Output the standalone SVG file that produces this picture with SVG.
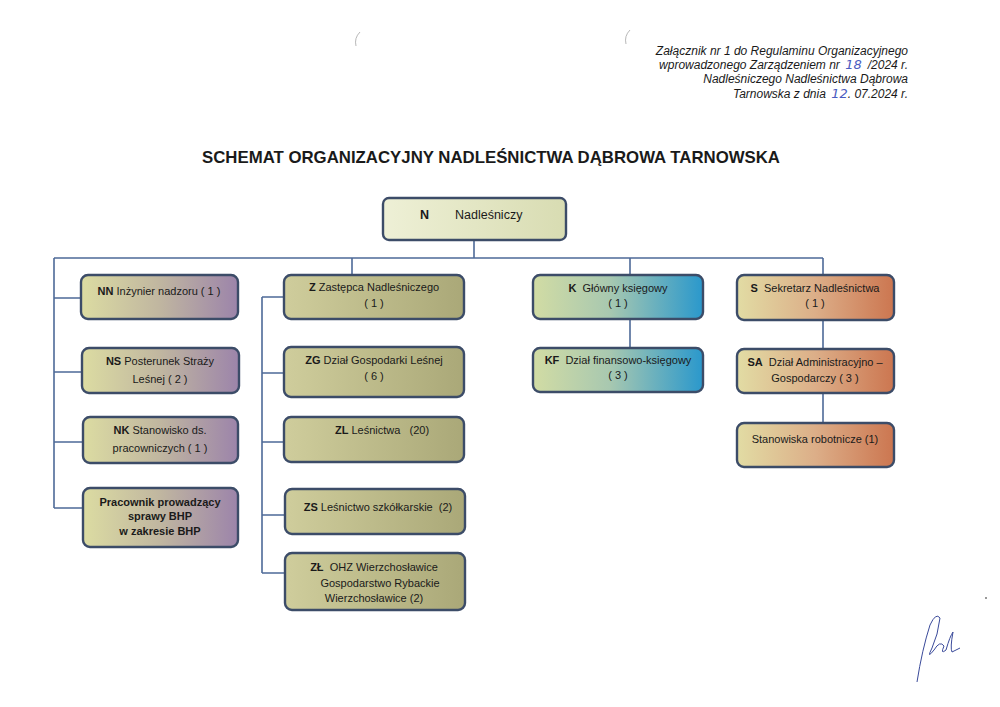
<svg xmlns="http://www.w3.org/2000/svg" width="1000" height="707" viewBox="0 0 1000 707">
<style>
text{font-family:"Liberation Sans",Arial,sans-serif;fill:#1a1a1a}
.hdr{font-size:12px;font-style:italic;text-anchor:end}
.hand{font-family:"DejaVu Sans",sans-serif;font-style:italic;fill:#4a5cc0;font-size:13px}
.t{font-size:11px;text-anchor:middle}
.b{font-weight:bold}
.box{stroke:#3c4c68;stroke-width:2.4}
.con{stroke:#4e6a98;stroke-width:1.6;fill:none}
</style>
<defs>
<linearGradient id="gN" x1="0" y1="0" x2="1" y2="0"><stop offset="0" stop-color="#eef0d6"/><stop offset="1" stop-color="#d8dcb2"/></linearGradient>
<linearGradient id="gL" x1="0" y1="0" x2="1" y2="0"><stop offset="0" stop-color="#dcdca2"/><stop offset="0.5" stop-color="#c0b6a0"/><stop offset="1" stop-color="#9c84aa"/></linearGradient>
<linearGradient id="gZ" x1="0" y1="0" x2="1" y2="0"><stop offset="0" stop-color="#cfcd9c"/><stop offset="1" stop-color="#aaa878"/></linearGradient>
<linearGradient id="gK" x1="0" y1="0" x2="1" y2="0"><stop offset="0" stop-color="#d2dca4"/><stop offset="0.45" stop-color="#a8c8b0"/><stop offset="1" stop-color="#2a98cc"/></linearGradient>
<linearGradient id="gS" x1="0" y1="0" x2="1" y2="0"><stop offset="0" stop-color="#e2dca4"/><stop offset="0.5" stop-color="#dcae88"/><stop offset="1" stop-color="#cc7650"/></linearGradient>
</defs>
<rect width="1000" height="707" fill="#ffffff"/>
<!-- scan marks -->
<path d="M360 32 Q354 38 356 46" stroke="#b8b8b8" stroke-width="1" fill="none"/>
<path d="M630 30 Q624 36 626 44" stroke="#b8b8b8" stroke-width="1" fill="none"/>
<!-- header -->
<g id="header">
<text class="hdr" x="908" y="55">Załącznik nr 1 do Regulaminu Organizacyjnego</text>
<text class="hdr" x="908" y="69">wprowadzonego Zarządzeniem nr <tspan class="hand" dx="2">18</tspan><tspan dx="6">/2024 r.</tspan></text>
<text class="hdr" x="908" y="83">Nadleśniczego Nadleśnictwa Dąbrowa</text>
<text class="hdr" x="908" y="98">Tarnowska z dnia <tspan class="hand" dx="2">12</tspan>. 07.2024 r.</text>
</g>
<text x="491" y="163" text-anchor="middle" font-size="17" font-weight="bold" textLength="578" lengthAdjust="spacingAndGlyphs">SCHEMAT ORGANIZACYJNY NADLEŚNICTWA DĄBROWA TARNOWSKA</text>
<!-- connectors -->
<g id="connectors">
<path class="con" d="M474 241 V258 M54 258 H823 M54 258 V508 M54 298 H80 M54 372 H81 M54 442 H82 M54 508 H82"/>
<path class="con" d="M352 258 V275 M262 297 V573 M262 297 H284 M262 373 H284 M262 442 H284 M262 515 H284 M262 573 H284"/>
<path class="con" d="M630 258 V275 M630 319 V348"/>
<path class="con" d="M823 258 V275 M823 320 V349 M823 393 V423"/>
</g>
<g id="N"><rect class="box" x="383" y="198" width="183" height="42" rx="6" fill="url(#gN)" stroke="#1c1c1c"/>
<text x="420" y="219" font-size="12.5" class="b">N</text><text x="455" y="219" font-size="12.5">Nadleśniczy</text></g>
<g id="NN"><rect class="box" x="81" y="275" width="157" height="44" rx="7" fill="url(#gL)"/>
<text class="t" x="159" y="295"><tspan class="b">NN</tspan> Inżynier nadzoru ( 1 )</text></g>
<g id="NS"><rect class="box" x="82" y="348" width="157" height="45" rx="7" fill="url(#gL)"/>
<text class="t" x="160" y="365"><tspan class="b">NS</tspan> Posterunek Straży</text><text class="t" x="160" y="383">Leśnej ( 2 )</text></g>
<g id="NK"><rect class="box" x="83" y="417" width="155" height="46" rx="7" fill="url(#gL)"/>
<text class="t" x="160" y="434"><tspan class="b">NK</tspan> Stanowisko ds.</text><text class="t" x="160" y="452">pracowniczych ( 1 )</text></g>
<g id="BHP"><rect class="box" x="83" y="488" width="155" height="59" rx="7" fill="url(#gL)"/>
<text class="t b" x="160" y="506">Pracownik prowadzący</text><text class="t b" x="160" y="520">sprawy BHP</text><text class="t b" x="160" y="535">w zakresie BHP</text></g>
<g id="Z"><rect class="box" x="284" y="275" width="180" height="44" rx="7" fill="url(#gZ)"/>
<text class="t" x="374" y="291"><tspan class="b">Z</tspan> Zastępca Nadleśniczego</text><text class="t" x="374" y="307">( 1 )</text></g>
<g id="ZG"><rect class="box" x="284" y="347" width="180" height="50" rx="7" fill="url(#gZ)"/>
<text class="t" x="374" y="364"><tspan class="b">ZG</tspan> Dział Gospodarki Leśnej</text><text class="t" x="374" y="380">( 6 )</text></g>
<g id="ZL"><rect class="box" x="284" y="417" width="180" height="45" rx="7" fill="url(#gZ)"/>
<text class="t" x="382" y="434" xml:space="preserve"><tspan class="b">ZL</tspan> Leśnictwa   (20)</text></g>
<g id="ZS"><rect class="box" x="285" y="489" width="180" height="45" rx="7" fill="url(#gZ)"/>
<text class="t" x="378" y="511" xml:space="preserve"><tspan class="b">ZS</tspan> Leśnictwo szkółkarskie  (2)</text></g>
<g id="ZLL"><rect class="box" x="285" y="553" width="180" height="57" rx="7" fill="url(#gZ)"/>
<text class="t" x="374" y="571" xml:space="preserve"><tspan class="b">ZŁ</tspan>  OHZ Wierzchosławice</text><text class="t" x="380" y="587">Gospodarstwo Rybackie</text><text class="t" x="374" y="602">Wierzchosławice (2)</text></g>
<g id="K"><rect class="box" x="533" y="275" width="170" height="44" rx="7" fill="url(#gK)"/>
<text class="t" x="618" y="292" xml:space="preserve"><tspan class="b">K</tspan>  Główny księgowy</text><text class="t" x="618" y="307">( 1 )</text></g>
<g id="KF"><rect class="box" x="533" y="348" width="170" height="44" rx="7" fill="url(#gK)"/>
<text class="t" x="618" y="364" xml:space="preserve"><tspan class="b">KF</tspan>  Dział finansowo-księgowy</text><text class="t" x="618" y="379">( 3 )</text></g>
<g id="S"><rect class="box" x="737" y="275" width="157" height="45" rx="7" fill="url(#gS)"/>
<text class="t" x="815" y="292" xml:space="preserve"><tspan class="b">S</tspan>  Sekretarz Nadleśnictwa</text><text class="t" x="815" y="307">( 1 )</text></g>
<g id="SA"><rect class="box" x="737" y="349" width="157" height="44" rx="7" fill="url(#gS)"/>
<text class="t" x="815" y="366" xml:space="preserve"><tspan class="b">SA</tspan>  Dział Administracyjno –</text><text class="t" x="815" y="382">Gospodarczy ( 3 )</text></g>
<g id="SR"><rect class="box" x="737" y="423" width="157" height="44" rx="7" fill="url(#gS)"/>
<text class="t" x="815" y="443">Stanowiska robotnicze (1)</text></g>
<!-- signature -->
<path d="M917 682 Q922 650 930 625 Q936 612 940 618 Q938 635 932 648 Q926 660 934 650 Q940 640 944 646 Q940 655 946 650 Q950 636 953 632 Q950 648 952 652 Q956 650 960 648" stroke="#3a4a9a" stroke-width="1" fill="none"/>
<circle cx="986" cy="598" r="1" fill="#777"/>
</svg>
